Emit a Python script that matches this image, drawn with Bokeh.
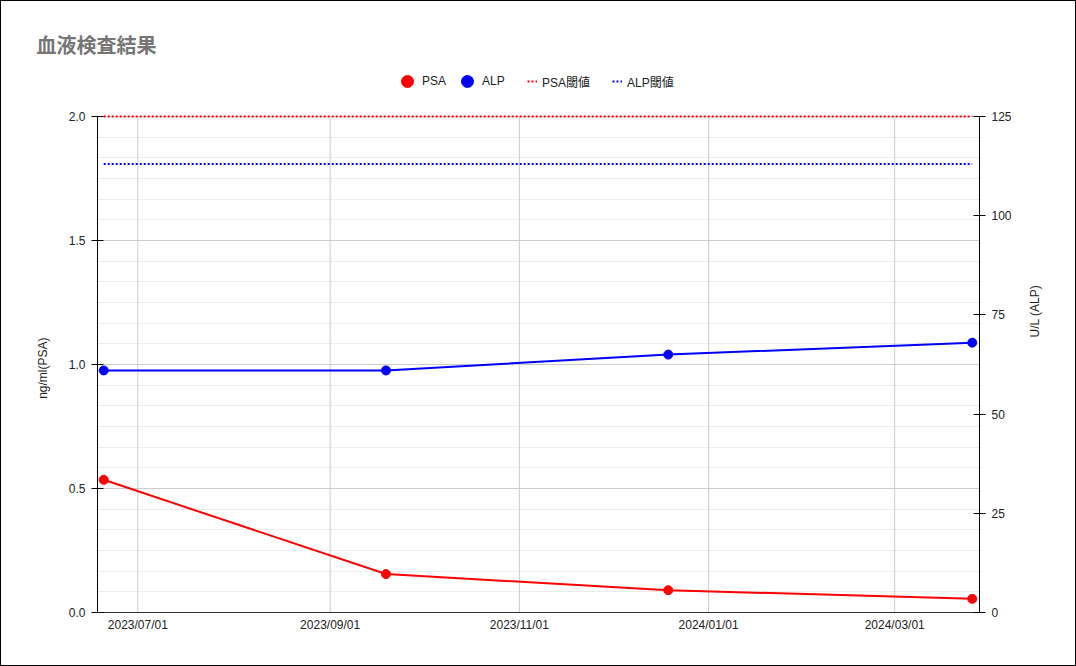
import math
import pandas as pd
from bokeh.plotting import figure
from bokeh.models import (ColumnDataSource, Range1d, LinearAxis, FixedTicker,
                          DatetimeTickFormatter, PrintfTickFormatter, Legend,
                          LegendItem)
from bokeh.embed import file_html
from bokeh.resources import INLINE

# ---------------- data ----------------
dates = ["2023-06-20", "2023-09-19", "2023-12-19", "2024-03-26"]
psa = [0.535, 0.155, 0.09, 0.055]          # ng/ml
alp = [61, 61, 65, 68]                     # U/L
psa_threshold = 2.0
alp_threshold = 113
series_names = ["PSA", "ALP", "PSA閾値", "ALP閾値"]
x_tick_dates = ["2023-07-01", "2023-09-01", "2023-11-01", "2024-01-01", "2024-03-01"]
psa_ticks = [0.0, 0.5, 1.0, 1.5, 2.0]
alp_ticks = [0, 25, 50, 75, 100, 125]
title_text = "血液検査結果"
psa_axis_label = "ng/ml(PSA)"
alp_axis_label = "U/L (ALP)"

# ---------------- layout constants (pixels) ----------------
W, H = 1076, 666
FRAME_LEFT, FRAME_RIGHT = 97, 979
AXIS_TOP, FRAME_BOTTOM = 116, 612      # where the value axes end
FRAME_TOP = 62                         # frame extended upward to host the legend
scale_up = (FRAME_BOTTOM - FRAME_TOP) / (FRAME_BOTTOM - AXIS_TOP)

# ---------------- source ----------------
dt = pd.to_datetime(dates)
src = ColumnDataSource(dict(
    date=dt,
    psa=psa,
    alp=alp,
    psa_th=[psa_threshold] * len(dates),
    alp_th=[alp_threshold] * len(dates),
))
tick_dt = pd.to_datetime(x_tick_dates)
vgrid = ColumnDataSource(dict(x=tick_dt,
                              y0=[psa_ticks[0]] * len(tick_dt),
                              y1=[psa_ticks[-1]] * len(tick_dt)))

x_start = pd.Timestamp("2023-06-18 00:00").to_pydatetime()
x_end = pd.Timestamp("2024-03-28 08:00").to_pydatetime()

FONT = "Liberation Sans, Noto Sans CJK JP"
TXT = "#222222"

p = figure(width=W, height=H, x_axis_type="datetime",
           x_range=Range1d(x_start, x_end),
           y_range=Range1d(psa_ticks[0], psa_ticks[-1] * scale_up),
           output_backend="svg", toolbar_location=None,
           min_border_left=FRAME_LEFT, min_border_right=W - FRAME_RIGHT,
           min_border_top=FRAME_TOP, min_border_bottom=H - FRAME_BOTTOM,
           background_fill_color="white", border_fill_alpha=0,
           outline_line_color=None)
p.styles = {"box-shadow": "inset 0 0 0 1px #000000"}
p.extra_y_ranges = {"alp": Range1d(alp_ticks[0], alp_ticks[-1] * scale_up)}

# title
p.title.text = title_text
p.title.align = "left"
p.title.offset = 36 - FRAME_LEFT
p.title.standoff = 8
p.title.text_font = "Noto Sans CJK JP"
p.title.text_font_size = "20px"
p.title.text_font_style = "bold"
p.title.text_color = "#757575"

# x axis
xa = p.xaxis[0]
xa.ticker = FixedTicker(ticks=[pd.Timestamp(d).value / 1e6 for d in x_tick_dates])
fmt = "%Y/%m/%d"
xa.formatter = DatetimeTickFormatter(hours=fmt, days=fmt, months=fmt, years=fmt)
xa.major_tick_line_color = None
xa.minor_tick_line_color = None
xa.major_tick_out = 0
xa.major_tick_in = 0
xa.axis_line_color = "#333333"
xa.major_label_standoff = 5
xa.major_label_text_font = FONT
xa.major_label_text_font_size = "12px"
xa.major_label_text_color = TXT

# left axis
ya = p.yaxis[0]
ya.bounds = (psa_ticks[0], psa_ticks[-1])
ya.ticker = FixedTicker(ticks=psa_ticks, minor_ticks=[i / 12 for i in range(25)])
ya.formatter = PrintfTickFormatter(format="%.1f")
ya.axis_line_color = "black"
ya.major_tick_line_color = "black"
ya.major_tick_in = 6
ya.major_tick_out = 6
ya.minor_tick_line_color = None
ya.major_label_standoff = 6
ya.major_label_text_font = FONT
ya.major_label_text_font_size = "12px"
ya.major_label_text_color = TXT
ya.axis_label = psa_axis_label
ya.axis_label_text_font = FONT
ya.axis_label_text_font_size = "12px"
ya.axis_label_text_font_style = "normal"
ya.axis_label_text_color = TXT
ya.axis_label_standoff = 23
ya.axis_label_orientation = math.pi / 2

# right axis
ra = LinearAxis(y_range_name="alp", ticker=FixedTicker(ticks=alp_ticks),
                bounds=(alp_ticks[0], alp_ticks[-1]))
ra.axis_line_color = "black"
ra.major_tick_line_color = "black"
ra.major_tick_in = 6
ra.major_tick_out = 6
ra.minor_tick_line_color = None
ra.major_label_standoff = 6
ra.major_label_text_font = FONT
ra.major_label_text_font_size = "12px"
ra.major_label_text_color = TXT
ra.axis_label = alp_axis_label
ra.axis_label_text_font = FONT
ra.axis_label_text_font_size = "12px"
ra.axis_label_text_font_style = "normal"
ra.axis_label_text_color = TXT
ra.axis_label_standoff = 20
ra.axis_label_orientation = -3 * math.pi / 2
p.add_layout(ra, "right")

# grids
p.xgrid.grid_line_color = None
p.ygrid.grid_line_color = "#cccccc"
p.ygrid.minor_grid_line_color = "#ebebeb"
p.segment(x0="x", y0="y0", x1="x", y1="y1", source=vgrid, line_color="#cccccc", line_width=1)

# thresholds
th_psa = p.line("date", "psa_th", source=src, line_color="red", line_width=2, line_dash="2 2")
th_alp = p.line("date", "alp_th", source=src, y_range_name="alp", line_color="blue",
                line_width=2, line_dash="2 2")

# series
p.line("date", "psa", source=src, line_color="red", line_width=2)
s_psa = p.scatter("date", "psa", source=src, size=9, fill_color="red", line_color="red")
p.line("date", "alp", source=src, y_range_name="alp", line_color="blue", line_width=2)
s_alp = p.scatter("date", "alp", source=src, y_range_name="alp", size=9,
                  fill_color="blue", line_color="blue")

# legends (inside the extended frame, above the value area)
common = dict(orientation="horizontal", padding=0, margin=0, border_line_color=None,
              background_fill_alpha=0, label_text_font=FONT, label_text_font_size="12px",
              label_text_color=TXT, label_height=30, label_width=0, glyph_height=30,
              label_text_baseline="middle")
leg_y = FRAME_BOTTOM - 96
leg1 = Legend(items=[LegendItem(label=series_names[0], renderers=[s_psa]),
                     LegendItem(label=series_names[1], renderers=[s_alp])],
              location=(392 - FRAME_LEFT, leg_y), glyph_width=30, label_standoff=0,
              spacing=6, **common)
leg2 = Legend(items=[LegendItem(label=series_names[2], renderers=[th_psa]),
                     LegendItem(label=series_names[3], renderers=[th_alp])],
              location=(527 - FRAME_LEFT, leg_y), glyph_width=10, label_standoff=5,
              spacing=22, **common)
p.add_layout(leg1)
p.add_layout(leg2)

open("out.html", "w").write(file_html(p, INLINE))
